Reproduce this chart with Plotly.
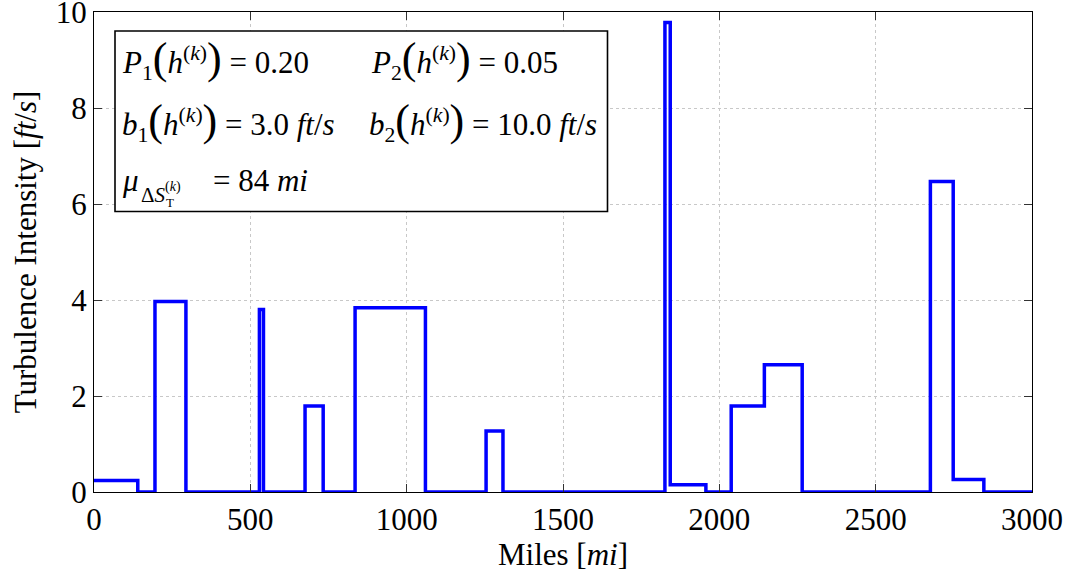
import plotly.graph_objects as go

# Piecewise-constant turbulence profile: segment boundaries (mi) and level on each segment (ft/s)
edges = [0, 140, 195, 294, 529, 542, 675, 733, 835, 1060, 1254, 1308,
         1826, 1843, 1957, 2038, 2144, 2265, 2675, 2748, 2846, 3000]
levels = [0.24, 0, 3.97, 0, 3.80, 0, 1.79, 0, 3.84, 0, 1.27, 0,
          9.78, 0.15, 0, 1.79, 2.65, 0, 6.47, 0.26, 0]

x_ticks = [0, 500, 1000, 1500, 2000, 2500, 3000]
y_ticks = [0, 2, 4, 6, 8, 10]

FONT = "Liberation Serif"
FS = 31
W, H = 1069, 578
L, R, T, B = 94, 37, 12, 86
PW, PH = W - L - R, H - T - B


def px(xp):
    return (xp - L) / PW


def py(yp):
    return (H - B - yp) / PH


fig = go.Figure()
fig.add_trace(go.Scatter(
    x=edges, y=levels + [levels[-1]],
    mode="lines", line=dict(color="#0000ff", width=3.5, shape="hv"),
    showlegend=False, hoverinfo="skip",
))

axis_common = dict(
    showline=True, linecolor="black", linewidth=1.2, mirror="ticks",
    ticks="inside", ticklen=8, tickcolor="#333", tickwidth=1,
    showgrid=True, gridcolor="#c8c8c8", griddash="dot", gridwidth=1,
    zeroline=False, ticklabeloverflow="allow", automargin=False,
    tickfont=dict(family=FONT, size=FS, color="black"),
)

fig.update_xaxes(range=[0, 3000], tickvals=x_ticks,
                 ticktext=[str(v) for v in x_ticks],
                 title=dict(text="Miles [<i>mi</i>]", standoff=2,
                            font=dict(family=FONT, size=FS, color="black")),
                 **axis_common)
fig.update_yaxes(range=[0, 10], tickvals=y_ticks,
                 ticktext=[str(v) for v in y_ticks],
                 title=dict(text="Turbulence Intensity [<i>ft</i>/<i>s</i>]", standoff=9,
                            font=dict(family=FONT, size=FS, color="black")),
                 **axis_common)

# Parameter box
fig.add_shape(type="rect", xref="paper", yref="paper",
              x0=px(115), x1=px(607.5), y0=py(211.5), y1=py(31),
              line=dict(color="black", width=1.6), fillcolor="white", layer="above")

BIG = "<span style='font-size:44px'>"


def term(sym, sub):
    return (f"<i>{sym}</i><sub>{sub}</sub>{BIG}(</span><i>h</i>"
            f"<sup>(<i>k</i>)</sup>{BIG})</span>")


# (x px, y px, text, size)
labels = [
    (120, 60, term("P", "1") + " = 0.20", FS),
    (369, 60, term("P", "2") + " = 0.05", FS),
    (120, 122, term("b", "1") + " = 3.0 <i>ft</i>/<i>s</i>", FS),
    (367, 122, term("b", "2") + " = 10.0 <i>ft</i>/<i>s</i>", FS),
    (120, 180, "<i>μ</i>", FS),
    (139, 195, "Δ<i>S</i>", 21),
    (163, 187, "(<i>k</i>)", 14),
    (164, 202, "T", 13),
    (211, 180, "= 84 <i>mi</i>", FS),
]
for xp_, yp_, txt, size in labels:
    fig.add_annotation(xref="paper", yref="paper", x=px(xp_), y=py(yp_),
                       xanchor="left", yanchor="middle", showarrow=False,
                       text=txt, font=dict(family=FONT, size=size, color="black"))

fig.update_layout(
    width=W, height=H, margin=dict(l=L, r=R, t=T, b=B, autoexpand=False),
    font=dict(family=FONT, size=FS, color="black"),
    plot_bgcolor="white", paper_bgcolor="white",
)

fig.write_html("out.html")
